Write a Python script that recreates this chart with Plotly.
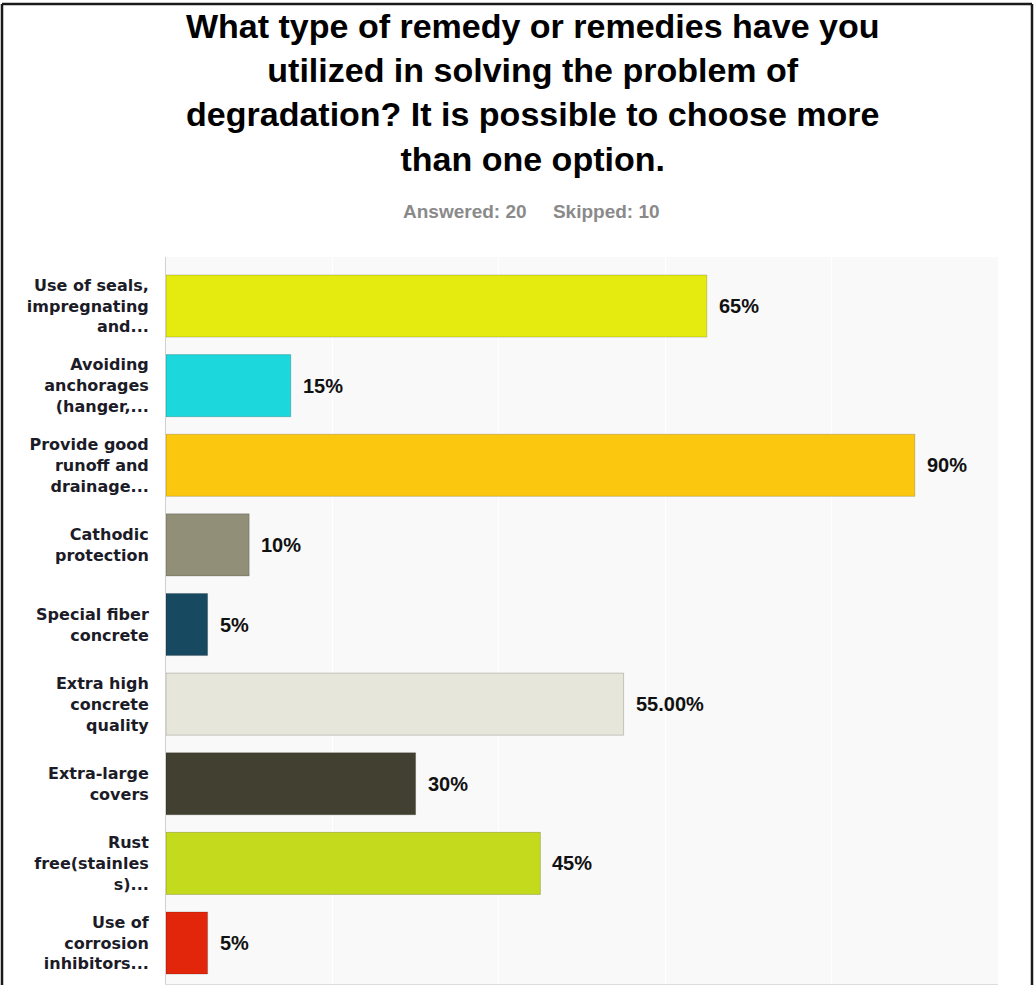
import plotly.graph_objects as go

# Survey answers (share of respondents, %)
categories = [
    "Use of seals,<br>impregnating<br>and...",
    "Avoiding<br>anchorages<br>(hanger,...",
    "Provide good<br>runoff and<br>drainage...",
    "Cathodic<br>protection",
    "Special fiber<br>concrete",
    "Extra high<br>concrete<br>quality",
    "Extra-large<br>covers",
    "Rust<br>free(stainles<br>s)...",
    "Use of<br>corrosion<br>inhibitors...",
]
values = [65, 15, 90, 10, 5, 55, 30, 45, 5]
value_labels = ["65%", "15%", "90%", "10%", "5%", "55.00%", "30%", "45%", "5%"]
bar_colors = [
    "#E5EB0F", "#1CD7DB", "#FBC80F", "#918F78", "#174961",
    "#E6E6DA", "#424030", "#C4DA1C", "#E1260B",
]

W, H = 1036, 985
L, R, T, B = 166, 38, 257, 1
PW, PH = W - L - R, H - T - B


def px_x(px):
    return (px - L) / PW


def px_y(py):
    return (H - B - py) / PH


fig = go.Figure()
fig.add_trace(go.Bar(
    x=values,
    y=categories,
    orientation="h",
    marker=dict(color=bar_colors, line=dict(color="rgba(0,0,0,0.18)", width=1)),
    hoverinfo="skip",
    showlegend=False,
))

# Percentage labels to the right of each bar
for cat, v, lab in zip(categories, values, value_labels):
    fig.add_annotation(
        x=v, y=cat, xref="x", yref="y",
        text=lab, showarrow=False, xanchor="left", yanchor="middle",
        xshift=10,
        font=dict(family="Liberation Sans, Arial", size=20, color="#111111", weight="bold"),
    )

# Title and response counts
fig.add_annotation(
    x=px_x(532), y=px_y(92), xref="paper", yref="paper",
    text=("<b>What type of remedy or remedies have you<br>utilized in solving the problem of"
          "<br>degradation? It is possible to choose more<br>than one option.</b>"),
    showarrow=False, xanchor="center", yanchor="middle", align="center",
    font=dict(family="Liberation Sans, Arial", size=34, color="#000000"),
)
fig.add_annotation(
    x=px_x(531), y=px_y(211), xref="paper", yref="paper",
    text="<b>Answered: 20&nbsp;&nbsp;&nbsp;&nbsp;&nbsp;Skipped: 10</b>",
    showarrow=False, xanchor="center", yanchor="middle",
    font=dict(family="Liberation Sans, Arial", size=19, color="#8a8a8a"),
)

# Frame around the panel (left, top, right)
frame = dict(color="#1a1a1a", width=2.5)
fig.add_shape(type="line", xref="paper", yref="paper",
              x0=px_x(2), x1=px_x(2), y0=px_y(4), y1=px_y(995), line=frame)
fig.add_shape(type="line", xref="paper", yref="paper",
              x0=px_x(2), x1=px_x(1032), y0=px_y(4), y1=px_y(4), line=frame)
fig.add_shape(type="line", xref="paper", yref="paper",
              x0=px_x(1032), x1=px_x(1032), y0=px_y(4), y1=px_y(995), line=frame)

fig.update_layout(
    width=W, height=H, autosize=False,
    margin=dict(l=L, r=R, t=T, b=B, pad=0),
    paper_bgcolor="#ffffff",
    plot_bgcolor="#f9f9f9",
    bargap=0.22,
    xaxis=dict(
        range=[0, 100], tickvals=[20, 40, 60, 80, 100],
        showticklabels=False, showgrid=True, gridcolor="#ffffff", gridwidth=1,
        zeroline=False, showline=True, linecolor="#dcdcdc", linewidth=1,
        fixedrange=True,
    ),
    yaxis=dict(
        categoryorder="array", categoryarray=categories,
        range=[8.515, -0.616],
        showgrid=False, zeroline=False,
        showline=True, linecolor="#d0d0d0", linewidth=1,
        ticks="", ticklabelstandoff=13,
        tickfont=dict(family="DejaVu Sans, Verdana", size=16, color="#1c1c28", weight="bold"),
        fixedrange=True,
    ),
)

fig.write_html("out.html")
